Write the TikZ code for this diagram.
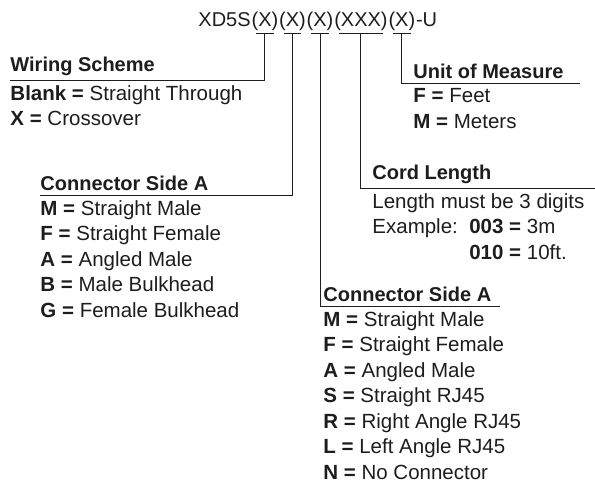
\documentclass[tikz,border=0pt]{standalone}
\usepackage{fontspec}
\setmainfont{Liberation Sans}
\usetikzlibrary{positioning,calc}
\definecolor{ink}{HTML}{1E1C1D}
\tikzset{
	partcode/.style={x=1pt,y=1pt,line width=0.9pt,draw=ink,text=ink},
	field/.style={inner sep=0pt,font=\fontsize{20}{24}\selectfont},
	heading/.style={inner xsep=0pt,inner ysep=3.5pt,font=\fontsize{20}{24}\selectfont\bfseries},
	options/.style={inner xsep=0pt,inner ysep=5pt,align=left,font=\fontsize{20.5}{25.5}\selectfont},
	underbar/.style={shorten >=5pt,shorten <=5pt}
}

\begin{document}
\begin{tikzpicture}[partcode]
	\useasboundingbox (0,0) rectangle (595,-487);
	
	% part number
	\node[field,anchor=base west] (code) at (198,-26.5) {XD5S};
	\node[field] (f1) [base right=0pt of code] {(X)};
	\node[field] (f2) [base right=0pt of f1] {(X)};
	\node[field] (f3) [base right=0pt of f2] {(X)};
	\node[field] (f4) [base right=0pt of f3] {(XXX)};
	\node[field] (f5) [base right=0pt of f4] {(X)};
	\node[field] (tail) [base right=0pt of f5] {-U};
	
	\foreach \f in {f1,f2,f3,f4,f5}{
		\draw[underbar] ([yshift=-2.3pt]\f.south west) -- ([yshift=-2.3pt]\f.south east);
		\coordinate (b\f) at ([yshift=-2.3pt]\f.south);
	}
	
	% option groups
	\node[heading,anchor=south west] (ws) at (10,-80) {Wiring Scheme};
	\node[options] (wsopt) [below right=0pt and 0pt of ws.south west] {\textbf{Blank =} Straight Through\\\textbf{X =} Crossover};
	
	\node[heading,anchor=south west] (csa) at (40,-195) {Connector Side A};
	\node[options] (csaopt) [below right=0pt and 0pt of csa.south west] {\textbf{M =} Straight Male\\\textbf{F =} Straight Female\\\textbf{A =} Angled Male\\\textbf{B =} Male Bulkhead\\\textbf{G =} Female Bulkhead};
	
	\node[heading,anchor=south west] (csb) at (323,-306) {Connector Side A};
	\node[options] (csbopt) [below right=0pt and 0pt of csb.south west] {\textbf{M =} Straight Male\\\textbf{F =} Straight Female\\\textbf{A =} Angled Male\\\textbf{S =} Straight RJ45\\\textbf{R =} Right Angle RJ45\\\textbf{L =} Left Angle RJ45\\\textbf{N =} No Connector};
	
	\node[heading,anchor=south west] (cord) at (372,-188) {Cord Length};
	\node[options] (cordopt) [below right=0pt and 0pt of cord.south west] {Length must be 3 digits\\Example:\ \ \textbf{003 =} 3m\\\hphantom{Example:\ \ }\textbf{010 =} 10ft.};
	
	\node[heading,anchor=south west] (uom) at (413,-83) {Unit of Measure};
	\node[options] (uomopt) [below right=0pt and 0pt of uom.south west] {\textbf{F =} Feet\\\textbf{M =} Meters};
	
	\coordinate (csbend) at (500,-306);
	\coordinate (cordend) at (595,-188);
	\coordinate (uomend) at (580,-83);
	
	% leaders
	\draw (bf1) |- (ws.south west);
	\draw (bf2) |- (csa.south west);
	\draw (bf3) |- (csbend);
	\draw (bf4) |- (cordend);
	\draw (bf5) |- (uomend);
	
\end{tikzpicture}
\end{document}
